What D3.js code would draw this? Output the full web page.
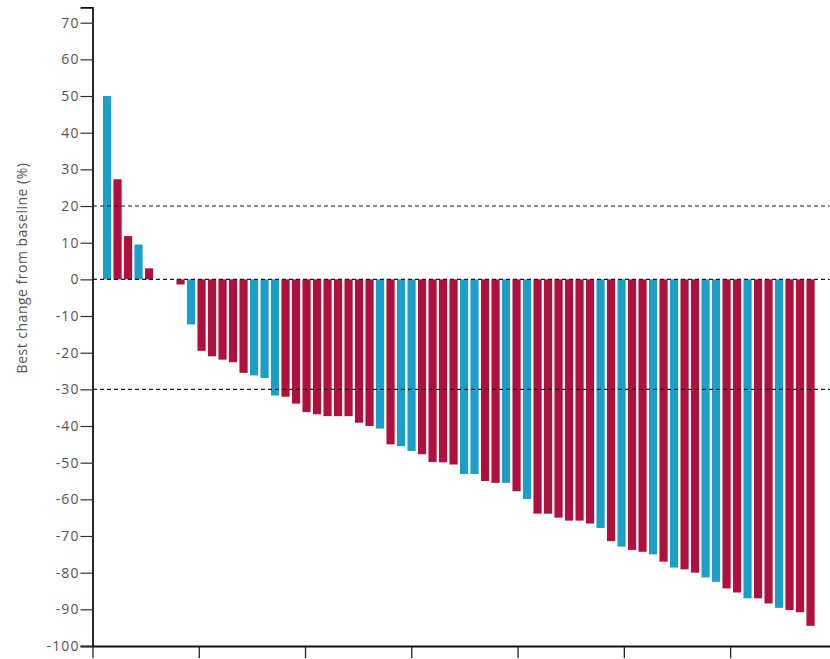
<!DOCTYPE html>
<html>
<head>
<meta charset="utf-8">
<script src="https://cdn.jsdelivr.net/npm/d3@7"></script>
<style>
body{margin:0;background:#fff;}
#svg1 text{font-family:"Open Sans",sans-serif;}
</style>
</head>
<body>
<svg id="svg1" width="830" height="659"></svg>
<script>
// best change from baseline (%) for each patient, in plotted order
var changes = [50, 27.3, 11.8, 9.5, 3, 0, 0, -1.4, -12.3, -19.5,
               -21, -21.9, -22.6, -25.5, -26.2, -26.9, -31.7, -32, -33.9, -36.2,
               -36.8, -37.3, -37.3, -37.3, -39.1, -40, -40.7, -45, -45.5, -46.8,
               -47.7, -49.8, -49.9, -50.5, -53.1, -53.1, -55, -55.5, -55.5, -57.8,
               -59.9, -63.9, -63.9, -65, -65.8, -65.8, -66.6, -67.8, -71.4, -72.9,
               -73.8, -74.3, -75, -77, -78.6, -79.1, -80, -81.3, -82.5, -84.3,
               -85.4, -87, -87, -88.4, -89.6, -90.2, -90.8, -94.5];
// group of each patient: "b" = blue, "r" = red
var groups = ["b","r","r","b","r","r","r","r","b","r",
              "r","r","r","r","b","b","b","r","r","r",
              "r","r","r","r","r","r","b","r","b","b",
              "r","r","r","r","b","b","r","r","b","r",
              "b","r","r","r","r","r","r","b","r","b",
              "r","r","b","r","b","r","r","b","b","r",
              "r","b","r","r","b","r","r","r"];
var yTicks = [70, 60, 50, 40, 30, 20, 10, 0, -10, -20, -30, -40, -50, -60, -70, -80, -90, -100];
var xTicks = [0, 10, 20, 30, 40, 50, 60];
var refLines = [20, 0, -30];

function draw(){
    var svg = d3.select("#svg1");
    var g = svg.append("g");

    var colors = {b: "#1b9fc8", r: "#b0103d"};

    //échelle Y
    var scaleY = d3.scaleLinear();
    scaleY.domain([-100, 74.2]);
    scaleY.range([646, 7.3]);

    //échelle des barres
    var scaleBar = d3.scaleBand();
    scaleBar.domain(d3.range(changes.length));
    scaleBar.range([101.8, 101.8 + changes.length * 10.5]);
    scaleBar.paddingInner(0.22);
    scaleBar.paddingOuter(0.11);

    //échelle X (graduations seules)
    var scaleX = d3.scaleLinear();
    scaleX.domain([0, 69.4]);
    scaleX.range([92.5, 830]);

    // barres
    g.append("g").selectAll("rect")
        .data(changes)
        .enter().append("rect")
        .attr("x", function(d, i){ return scaleBar(i); })
        .attr("width", scaleBar.bandwidth())
        .attr("y", function(d){ return scaleY(Math.max(0, d)); })
        .attr("height", function(d){ return Math.abs(scaleY(d) - scaleY(0)); })
        .attr("fill", function(d, i){ return colors[groups[i]]; });

    // lignes pointillées
    g.append("g").selectAll("line")
        .data(refLines)
        .enter().append("line")
        .attr("x1", 93)
        .attr("x2", 830)
        .attr("y1", function(d){ return scaleY(d); })
        .attr("y2", function(d){ return scaleY(d); })
        .attr("stroke", "#1a1a1a")
        .attr("stroke-width", 1.2)
        .attr("stroke-dasharray", "4,3");

    //axe Y
    var axisY = d3.axisLeft(scaleY)
        .tickValues(yTicks)
        .tickSize(12)
        .tickPadding(1)
        .tickFormat(function(d){ return String(d); });
    var gAxisY = g.append("g");
    gAxisY.attr("transform", "translate(92.5,0)");
    gAxisY.call(axisY);
    gAxisY.select(".domain").attr("stroke", "#111").attr("stroke-width", 1.8);
    gAxisY.selectAll(".tick line").attr("stroke", "#333").attr("stroke-width", 1.2);
    gAxisY.selectAll("text")
        .attr("fill", "#555")
        .attr("font-size", 14)
        .attr("letter-spacing", 1.1);

    //axe X
    var axisX = d3.axisBottom(scaleX)
        .tickValues(xTicks)
        .tickSize(12)
        .tickSizeOuter(0)
        .tickFormat("");
    var gAxisX = g.append("g");
    gAxisX.attr("transform", "translate(0," + scaleY(-100) + ")");
    gAxisX.call(axisX);
    gAxisX.select(".domain").attr("stroke", "#111").attr("stroke-width", 1.8);
    gAxisX.selectAll(".tick line").attr("stroke", "#222").attr("stroke-width", 1.3);

    // titre Y
    g.append("text")
        .attr("transform", "translate(27,268) rotate(-90)")
        .attr("text-anchor", "middle")
        .attr("font-size", 14)
        .attr("letter-spacing", 0.5)
        .attr("fill", "#555")
        .text("Best change from baseline (%)");
}
draw();
</script>
</body>
</html>
